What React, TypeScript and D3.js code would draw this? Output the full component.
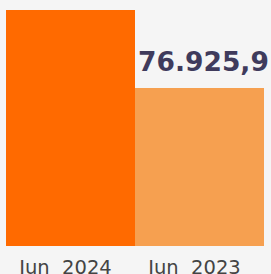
import * as d3 from 'd3';

const categories = ['Jun 2024', 'Jun 2023'];
const values = [114900, 76925.9];
const colors = ['#ff6a00', '#f6a050'];
const labels = ['', '76.925,9'];

const width = 271;
const height = 274;

function App() {
  const x = d3.scaleBand<string>().domain(categories).range([6, 264]).padding(0);
  const y = d3.scaleLinear().domain([0, d3.max(values) || 0]).range([246, 10]);

  return (
    <svg
      width={width}
      height={height}
      style={{ position: 'absolute', left: 0, top: 0, background: '#f5f5f5' }}
    >
      <rect x={0} y={0} width={width} height={height} fill="#f5f5f5" />
      {categories.map((c, i) => (
        <g key={c}>
          <rect
            x={x(c)}
            y={y(values[i])}
            width={x.bandwidth()}
            height={y(0) - y(values[i])}
            fill={colors[i]}
          />
          {labels[i] && (
            <text
              x={(x(c) || 0) + x.bandwidth() / 2 + 4}
              y={y(values[i]) - 17}
              textAnchor="middle"
              fontFamily="DejaVu Sans"
              fontWeight="bold"
              fontSize={26.5}
              fill="#3f3b5c"
            >
              {labels[i]}
            </text>
          )}
          <text
            x={(x(c) || 0) + x.bandwidth() / 2 - 5}
            y={273.5}
            textAnchor="middle"
            fontFamily="DejaVu Sans"
            fontSize={19.5}
            fill="#444444"
            style={{ whiteSpace: 'pre' }}
          >
            {c.replace(' ', '  ')}
          </text>
        </g>
      ))}
    </svg>
  );
}

export default App;
